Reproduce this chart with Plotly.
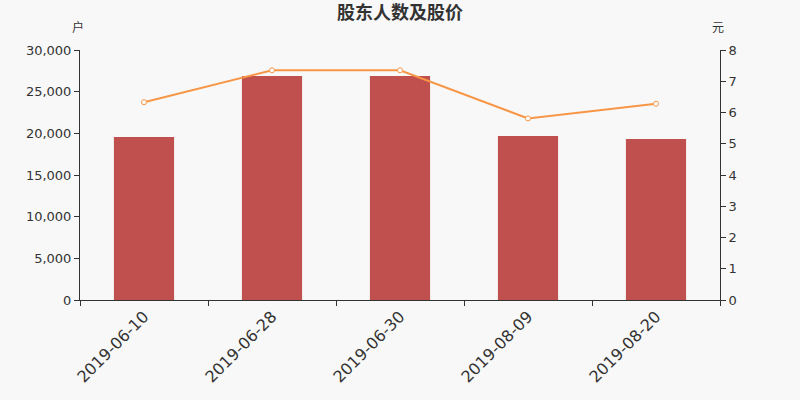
import plotly.graph_objects as go

# --------------------------------------------------------------
# Data
# --------------------------------------------------------------

dates = ["2019-06-10", "2019-06-28", "2019-06-30", "2019-08-09", "2019-08-20"]
holders = [19560, 26880, 26880, 19680, 19320]
price = [6.33, 7.35, 7.35, 5.81, 6.28]

left_ticks = [0, 5000, 10000, 15000, 20000, 25000, 30000]
right_ticks = [0, 1, 2, 3, 4, 5, 6, 7, 8]

font = "DejaVu Sans, Noto Sans CJK SC"
text_color = "#333333"

# --------------------------------------------------------------
# Figure
# --------------------------------------------------------------

fig = go.Figure()

fig.add_trace(go.Bar(x=dates, y=holders, name="股东人数",
                     marker=dict(color="#c0504d", line=dict(width=0)),
                     width=0.47, yaxis="y"))

fig.add_trace(go.Scatter(x=dates, y=price, name="股价", mode="lines+markers",
                         line=dict(color="#f79646", width=2),
                         marker=dict(size=5, color="white",
                                     line=dict(color="#f79646", width=1)),
                         yaxis="y2"))

fig.update_layout(
    width=800, height=400,
    margin=dict(l=80, r=80, t=50, b=100),
    paper_bgcolor="#f8f8f8", plot_bgcolor="#f8f8f8",
    font=dict(family=font, color=text_color, size=12),
    showlegend=False,
    title=dict(text="<b>股东人数及股价</b>", x=0.5, xanchor="center",
               y=1 - 13 / 400, yanchor="middle", font=dict(size=18, color=text_color)),
    xaxis=dict(type="category", showgrid=False, showline=True, linecolor=text_color,
               linewidth=1, ticks="outside", ticklen=5, tickcolor=text_color,
               tickson="boundaries", tickangle=-45, tickfont=dict(size=16),
               automargin=False),
    yaxis=dict(range=[0, 30000], tickvals=left_ticks, tickformat=",", showgrid=False,
               zeroline=False, showline=True, linecolor=text_color, ticks="outside",
               ticklen=5, tickcolor=text_color, automargin=False,
               tickfont=dict(size=13)),
    yaxis2=dict(range=[0, 8], tickvals=right_ticks, overlaying="y", side="right",
                showgrid=False, zeroline=False, showline=True, linecolor=text_color,
                ticks="outside", ticklen=5, tickcolor=text_color, automargin=False,
                tickfont=dict(size=13)),
    annotations=[
        dict(text="户", x=-0.003, y=1.0, xref="paper", yref="paper", xanchor="center",
             yanchor="bottom", yshift=13, showarrow=False, font=dict(size=12)),
        dict(text="元", x=0.997, y=1.0, xref="paper", yref="paper", xanchor="center",
             yanchor="bottom", yshift=13, showarrow=False, font=dict(size=12)),
    ],
)

# drop the page's default body margin so the chart fills the window
fig.write_html("out.html", config={"displayModeBar": False},
               post_script="document.body.style.margin='0px';")
